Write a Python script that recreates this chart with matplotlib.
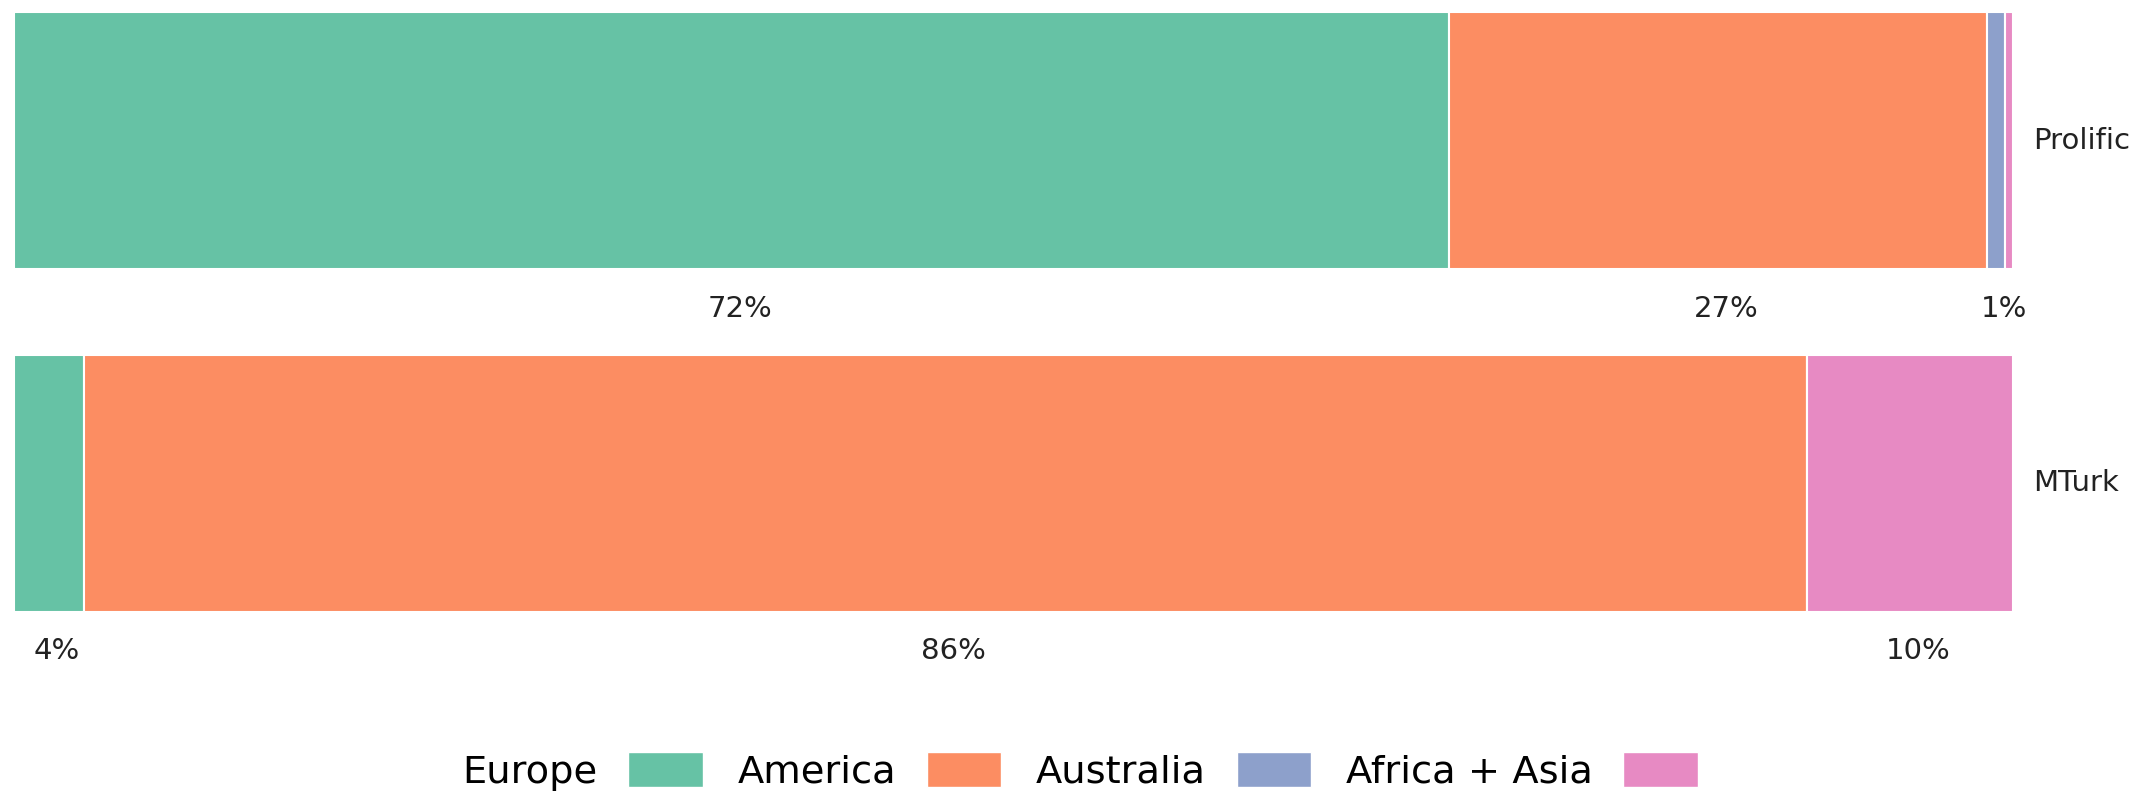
import matplotlib.pyplot as plt
from matplotlib.patches import Patch
import numpy as np

platforms = ['Prolific', 'MTurk']
regions = ['Europe', 'America', 'Australia', 'Africa + Asia']
colors = ['#66c2a5', '#fc8d62', '#8da0cb', '#e78ac3']

# share of participants (%) per region, one list per region
europe = [71.8, 3.5]
america = [26.9, 86.2]
australia = [0.9, 0.0]
africa_asia = [0.4, 10.3]

values = np.array([europe, america, australia, africa_asia])

fig = plt.figure(figsize=(21.39, 7.95), dpi=100)
ax = fig.add_axes([14 / 2139, 1 - 612 / 795, 1999 / 2139, 600 / 795])

ypos = np.arange(len(platforms))
left = np.zeros(len(platforms))
for i, reg in enumerate(regions):
    ax.barh(ypos, values[i], left=left, height=0.75, color=colors[i],
            edgecolor='white', linewidth=1.5, label=reg)
    for j in range(len(platforms)):
        v = values[i][j]
        if round(v) >= 1:
            # labels sit a bit right of the segment centre in the original
            ax.text(left[j] + v / 2 + 0.4, ypos[j] + 0.49, '%d%%' % round(v),
                    ha='center', va='center', fontsize=21, color='#222222',
                    clip_on=False)
    left = left + values[i]

for j, name in enumerate(platforms):
    ax.text(101, ypos[j], name, ha='left', va='center', fontsize=21,
            color='#222222', clip_on=False)

ax.set_xlim(0, 100)
ax.set_ylim(1.375, -0.375)
ax.axis('off')

handles = [Patch(facecolor=c, edgecolor='white') for c in colors]
fig.legend(handles, regions, loc='center', bbox_to_anchor=(0.505, 0.03),
           ncol=4, frameon=False, fontsize=27.6, markerfirst=False,
           handlelength=1.95, handleheight=1.05, handletextpad=0.8,
           columnspacing=0.9)

fig.savefig('out.png', dpi=100)
